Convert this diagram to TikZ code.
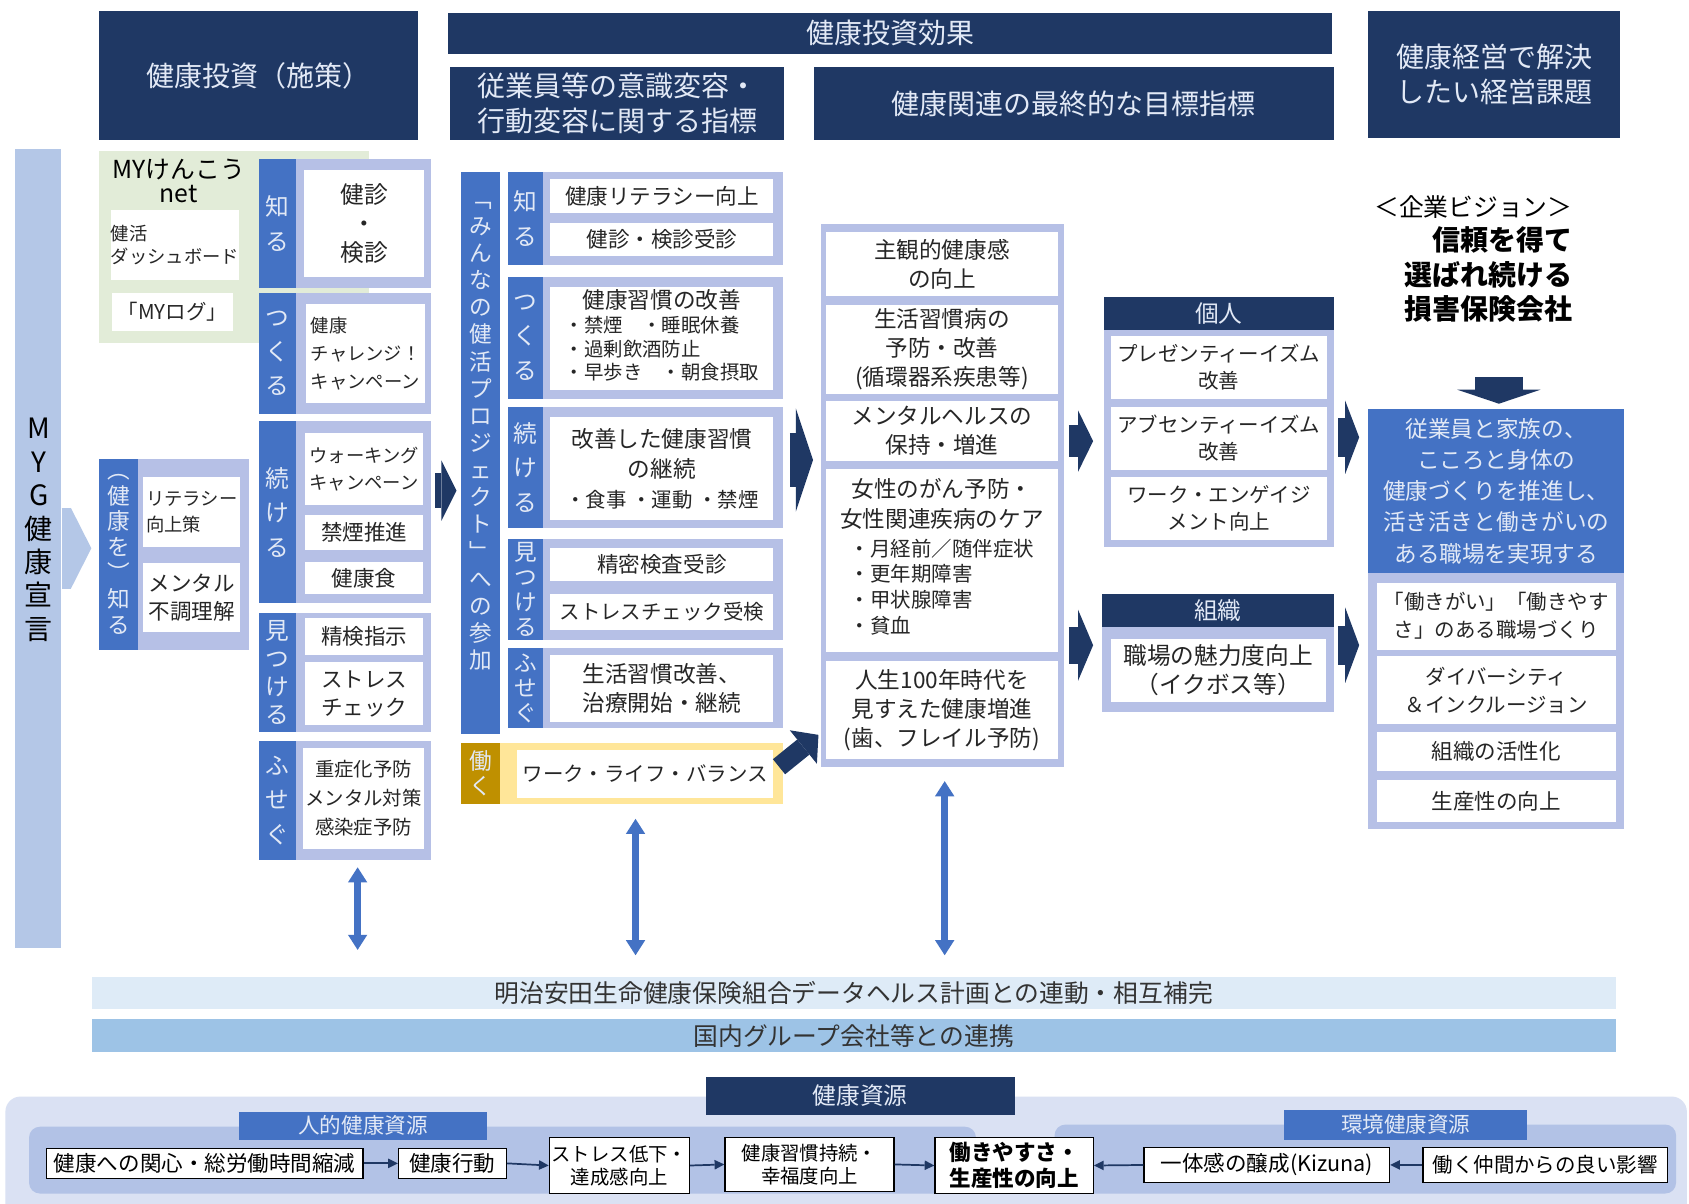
\documentclass[tikz,border=0pt]{standalone}
\usepackage{fontspec}
\setmainfont{Noto Sans CJK JP}
\usetikzlibrary{positioning, arrows.meta, calc}

\definecolor{navy}{RGB}{31,56,100}
\definecolor{midblue}{RGB}{68,114,196}
\definecolor{lav}{RGB}{182,192,230}
\definecolor{barblue}{RGB}{180,199,231}
\definecolor{mygreen}{RGB}{226,236,216}
\definecolor{gold}{RGB}{191,144,0}
\definecolor{paleyellow}{RGB}{255,230,153}
\definecolor{hdrtxt}{RGB}{226,233,246}
\definecolor{band1c}{RGB}{222,235,247}
\definecolor{band2c}{RGB}{157,195,230}
\definecolor{botouter}{RGB}{218,225,243}
\definecolor{botinner}{RGB}{178,194,230}

\begin{document}
\begin{tikzpicture}[x=1pt, y=-1pt,
  cell/.style n args={4}{minimum width={#3-#1}, minimum height={#4-#2}, at={({(#1+#3)/2},{(#2+#4)/2})}},
  blockarrow/.style n args={3}{draw=navy, line width=#1, -{Triangle[length=#3, width=#2, line width=0pt]}},
  dblarrow/.style={draw=midblue, line width=6pt, {Triangle[length=14pt, width=18pt, line width=0pt]}-{Triangle[length=14pt, width=18pt, line width=0pt]}}]

% Styles for boxes
\tikzstyle{hdr} = [rectangle, fill=navy, text=hdrtxt, align=center, inner sep=0pt, font=\fontsize{26}{32}\selectfont]
\tikzstyle{side} = [rectangle, fill=midblue, text=hdrtxt, align=center, inner sep=0pt, font=\fontsize{22}{32}\selectfont]
\tikzstyle{sidetxt} = [text=hdrtxt, align=center, inner sep=0pt]
\tikzstyle{body} = [rectangle, fill=lav, inner sep=0pt]
\tikzstyle{wbox} = [rectangle, fill=white, text=black!85, align=center, inner sep=0pt, font=\fontsize{20}{26}\selectfont]
\tikzstyle{tbox} = [wbox, font=\fontsize{21}{27}\selectfont]
\tikzstyle{kbox} = [wbox, font=\fontsize{19}{25}\selectfont]
\tikzstyle{sub} = [rectangle, fill=navy, text=hdrtxt, inner sep=0pt, font=\fontsize{22}{26}\selectfont]
\tikzstyle{band} = [rectangle, text=black!80, inner sep=0pt, font=\fontsize{23}{26}\selectfont]
\tikzstyle{flowbox} = [rectangle, draw=black, line width=1.2pt, fill=white, align=center, inner sep=0pt, font=\fontsize{18}{21}\selectfont]
\tikzstyle{flow} = [draw=navy, line width=1.6pt, -{Triangle[length=9pt, width=9pt, line width=0pt]}]

\useasboundingbox (0,0) rectangle (1568,1117);
\fill[white] (0,0) rectangle (1568,1117);

% Headers
\node[hdr, cell={92}{10}{388}{130}] (invest) {健康投資（施策）};
\node[hdr, cell={416}{12}{1237}{50}] (effect) {健康投資効果};
\node[hdr, cell={418}{62}{728}{130}] (ishiki) {従業員等の意識変容・\\行動変容に関する指標};
\node[hdr, cell={756}{62}{1238}{130}] (mokuhyo) {健康関連の最終的な目標指標};
\node[hdr, cell={1270}{10}{1504}{128}] (kadaihdr) {健康経営で解決\\したい経営課題};

% MYG bar and MY net
\node[rectangle, fill=barblue, inner sep=0pt, cell={14}{138}{57}{880}] (myg) {};
\node[align=center, inner sep=0pt, font=\fontsize{26}{31}\selectfont] (mygtxt) at (36,492) {M\\Y\\G\\健\\康\\宣\\言};
\node[rectangle, fill=mygreen, inner sep=0pt, cell={92}{140}{343}{318}] (mynet) {};
\node[align=center, inner sep=0pt, font=\fontsize{23}{22}\selectfont] (mynettxt) at (166,168) {MYけんこう\\net};
\node[wbox, align=left, font=\fontsize{17}{22}\selectfont, cell={105}{195}{220}{260}] (dash) {健活\\ダッシュボード};
\node[wbox, font=\fontsize{19}{22}\selectfont, cell={104}{272}{216}{307}] (mylog) {「MYログ」};

% Column 1
\node[body, cell={240}{148}{400}{267}] (c1shiru) {};
\node[side, cell={240}{148}{275}{267}] (c1shirus) {知\\る};
\node[wbox, font=\fontsize{22}{27}\selectfont, cell={282}{158}{394}{257}] (kenshin) {健診\\・\\検診};

\node[body, cell={240}{272}{400}{384}] (c1tsuku) {};
\node[side, cell={240}{272}{275}{384}] (c1tsukus) {つ\\く\\る};
\node[wbox, align=left, font=\fontsize{17}{26}\selectfont, cell={284}{282}{395}{374}] (challenge) {健康\\チャレンジ！\\キャンペーン};

\node[body, cell={240}{391}{400}{560}] (c1kei) {};
\node[side, cell={240}{391}{275}{560}] (c1keis) {続\\け\\る};
\node[wbox, align=left, font=\fontsize{17}{25}\selectfont, cell={283}{402}{393}{469}] (walking) {ウォーキング\\キャンペーン};
\node[wbox, cell={283}{478}{393}{511}] (kinen) {禁煙推進};
\node[wbox, cell={283}{522}{393}{551}] (kenkoshoku) {健康食};

\node[body, cell={240}{569}{400}{680}] (c1mitsu) {};
\node[side, font=\fontsize{22}{26}\selectfont, cell={240}{569}{275}{680}] (c1mitsus) {見\\つ\\け\\る};
\node[wbox, cell={283}{574}{393}{608}] (seiken) {精検指示};
\node[wbox, cell={283}{615}{393}{673}] (stress1) {ストレス\\チェック};

\node[body, cell={240}{688}{400}{798}] (c1fuse) {};
\node[side, cell={240}{688}{275}{798}] (c1fuses) {ふ\\せ\\ぐ};
\node[wbox, font=\fontsize{18}{27}\selectfont, cell={281}{694}{394}{788}] (yobou) {重症化予防\\メンタル対策\\感染症予防};

\node[body, cell={92}{426}{231}{603}] (kshiru) {};
\node[side, font=\fontsize{21}{24}\selectfont, cell={92}{426}{128}{603}] (kshirus) {︵\\健\\康\\を\\︶\\知\\る};
\node[wbox, align=left, font=\fontsize{17}{24}\selectfont, cell={133}{443}{223}{508}] (literacy) {リテラシー\\向上策};
\node[wbox, align=left, font=\fontsize{20}{26}\selectfont, cell={133}{523}{223}{587}] (mental1) {メンタル\\不調理解};

% Column 2
\node[rectangle, fill=midblue, inner sep=0pt, cell={428}{160}{464}{681}] (minna) {};
\node[sidetxt, font=\fontsize{21}{25.2}\selectfont] (minnatxt) at (446,405) {﹁\\み\\ん\\な\\の\\健\\活\\プ\\ロ\\ジ\\ェ\\ク\\ト\\﹂\\へ\\の\\参\\加};

\node[body, cell={472}{160}{727}{246}] (c2shiru) {};
\node[side, cell={472}{160}{504}{246}] (c2shirus) {知\\る};
\node[wbox, cell={511}{166}{718}{198}] (literacy2) {健康リテラシー向上};
\node[wbox, cell={511}{207}{718}{238}] (jushin) {健診・検診受診};

\node[body, cell={472}{257}{727}{370}] (c2tsuku) {};
\node[side, cell={472}{257}{504}{370}] (c2tsukus) {つ\\く\\る};
\node[wbox, font=\fontsize{18}{22}\selectfont, cell={511}{266}{718}{362}] (shukan) {\begin{tabular}{@{}l@{}}\multicolumn{1}{@{}c@{}}{\fontsize{21}{24}\selectfont 健康習慣の改善}\\・禁煙　・睡眠休養\\・過剰飲酒防止\\・早歩き　・朝食摂取\end{tabular}};

\node[body, cell={472}{378}{727}{490}] (c2kei) {};
\node[side, cell={472}{378}{504}{490}] (c2keis) {続\\け\\る};
\node[wbox, font=\fontsize{21}{28}\selectfont, cell={511}{387}{718}{483}] (keizoku) {改善した健康習慣\\の継続\\{\fontsize{19}{28}\selectfont ・食事 ・運動 ・禁煙}};

\node[body, cell={472}{500}{727}{594}] (c2mitsu) {};
\node[side, font=\fontsize{21}{23}\selectfont, cell={472}{500}{504}{594}] (c2mitsus) {見\\つ\\け\\る};
\node[wbox, cell={511}{509}{718}{539}] (seimitsu) {精密検査受診};
\node[wbox, font=\fontsize{19}{24}\selectfont, cell={511}{551}{718}{585}] (stress2) {ストレスチェック受検};

\node[body, cell={472}{602}{727}{676}] (c2fuse) {};
\node[side, font=\fontsize{21}{23}\selectfont, cell={472}{602}{504}{676}] (c2fuses) {ふ\\せ\\ぐ};
\node[wbox, font=\fontsize{21}{27}\selectfont, cell={511}{608}{718}{670}] (chiryo) {生活習慣改善、\\治療開始・継続};

\node[body, fill=paleyellow, cell={428}{690}{727}{746}] (c2hata) {};
\node[side, fill=gold, font=\fontsize{21}{23}\selectfont, cell={428}{690}{464}{746}] (c2hatas) {働\\く};
\node[wbox, font=\fontsize{19}{24}\selectfont, cell={480}{696}{718}{741}] (wlb) {ワーク・ライフ・バランス};

% Column 3
\node[body, cell={762}{208}{988}{712}] (col3) {};
\node[tbox, cell={767}{215}{982}{275}] (shukan3) {主観的健康感\\の向上};
\node[tbox, cell={767}{283}{982}{366}] (seikatsu) {生活習慣病の\\予防・改善\\(循環器系疾患等)};
\node[tbox, cell={767}{372}{982}{428}] (mentalh) {メンタルヘルスの\\保持・増進};
\node[tbox, cell={767}{435}{982}{605}] (josei) {女性のがん予防・\\女性関連疾病のケア\\{\fontsize{19}{24}\selectfont\begin{tabular}[t]{@{}l@{}}・月経前／随伴症状\\・更年期障害\\・甲状腺障害\\・貧血\end{tabular}}};
\node[tbox, cell={767}{614}{982}{705}] (jinsei) {人生100年時代を\\見すえた健康増進\\(歯、フレイル予防)};

% Column 4
\node[body, cell={1025}{276}{1238}{508}] (kojin) {};
\node[sub, cell={1025}{276}{1238}{306}] (kojinh) {個人};
\node[kbox, cell={1031}{312}{1232}{370}] (presen) {プレゼンティーイズム\\改善};
\node[kbox, cell={1031}{378}{1232}{436}] (absen) {アブセンティーイズム\\改善};
\node[kbox, cell={1031}{443}{1232}{501}] (engage) {ワーク・エンゲイジ\\メント向上};

\node[body, cell={1023}{551}{1238}{661}] (soshiki) {};
\node[sub, cell={1023}{551}{1238}{582}] (soshikih) {組織};
\node[wbox, font=\fontsize{22}{27}\selectfont, cell={1031}{593}{1231}{652}] (miryoku) {職場の魅力度向上\\（イクボス等）};

% Column 5
\node[anchor=north east, align=right, inner sep=0pt, font=\fontsize{26}{32}\selectfont] (vision) at (1460,181) {{\fontsize{23}{32}\selectfont ＜企業ビジョン＞}\\\textbf{信頼を得て}\\\textbf{選ばれ続ける}\\\textbf{損害保険会社}};
\node[body, cell={1270}{380}{1508}{770}] (kadai) {};
\node[rectangle, fill=midblue, text=hdrtxt, align=center, inner sep=0pt, font=\fontsize{21}{29}\selectfont, cell={1270}{380}{1508}{532}] (kadaitop) {従業員と家族の、\\こころと身体の\\健康づくりを推進し、\\活き活きと働きがいの\\ある職場を実現する};
\node[wbox, font=\fontsize{19}{26}\selectfont, cell={1278}{541}{1500}{603}] (yarigai) {「働きがい」「働きやす\\さ」のある職場づくり};
\node[wbox, font=\fontsize{19}{26}\selectfont, cell={1278}{609}{1500}{672}] (diversity) {ダイバーシティ\\＆インクルージョン};
\node[wbox, cell={1278}{680}{1500}{716}] (kasseika) {組織の活性化};
\node[wbox, cell={1278}{724}{1500}{763}] (seisansei) {生産性の向上};

% Bands
\node[band, fill=band1c, cell={85}{907}{1500}{937}] (band1) {明治安田生命健康保険組合データヘルス計画との連動・相互補完};
\node[band, fill=band2c, cell={85}{946}{1500}{977}] (band2) {国内グループ会社等との連携};

% Health resources
\node[rectangle, rounded corners=14pt, fill=botouter, inner sep=0pt, cell={5}{1018}{1566}{1135}] (resarea) {};
\node[rectangle, rounded corners=10pt, fill=botinner, inner sep=0pt, cell={27}{1046}{906}{1108}] (humanarea) {};
\node[rectangle, rounded corners=10pt, fill=botinner, inner sep=0pt, cell={979}{1044}{1556}{1108}] (envarea) {};
\node[sub, cell={655}{1000}{942}{1035}] (reshdr) {健康資源};
\node[sub, fill=midblue, font=\fontsize{20}{24}\selectfont, cell={222}{1032}{452}{1058}] (humanhdr) {人的健康資源};
\node[sub, fill=midblue, font=\fontsize{20}{24}\selectfont, cell={1192}{1030}{1418}{1058}] (envhdr) {環境健康資源};

\node[flowbox, font=\fontsize{20}{22}\selectfont, cell={43}{1066}{337}{1094}] (kanshin) {健康への関心・総労働時間縮減};
\node[flowbox, font=\fontsize{20}{22}\selectfont, cell={370}{1066}{470}{1094}] (koudou) {健康行動};
\node[flowbox, cell={510}{1056}{640}{1108}] (stress3) {ストレス低下・\\達成感向上};
\node[flowbox, cell={673}{1056}{830}{1106}] (jizoku) {健康習慣持続・\\幸福度向上};
\node[flowbox, font=\fontsize{20}{24}\selectfont\bfseries, cell={868}{1056}{1015}{1108}] (hataraki) {働きやすさ・\\生産性の向上};
\node[flowbox, font=\fontsize{20}{22}\selectfont, cell={1062}{1065}{1290}{1098}] (kizuna) {一体感の醸成(Kizuna)};
\node[flowbox, font=\fontsize{19}{22}\selectfont, cell={1321}{1065}{1548}{1098}] (nakama) {働く仲間からの良い影響};

% Edges
\draw[draw=barblue, line width=75pt, -{Triangle[length=19pt, width=75pt, line width=0pt]}, shorten >=7pt] (myg.east) -- (myg.east -| kshiru.west);

\coordinate (a1) at ($(c1kei.east)+(4,-20)$);
\draw[blockarrow={32pt}{56pt}{14pt}, shorten >=4pt] (a1) -- (a1 -| minna.west);
\coordinate (a2) at ($(c2kei.east)+(6,-7)$);
\draw[blockarrow={50pt}{96pt}{16pt}, shorten >=7pt] (a2) -- (a2 -| col3.west);
\coordinate (a3) at ($(col3.east)+(4,-50.5)$);
\draw[blockarrow={30pt}{57pt}{14pt}, shorten >=10pt] (a3) -- (a3 -| kojin.west);
\coordinate (a4) at ($(col3.east)+(4,139)$);
\draw[blockarrow={34pt}{66pt}{14pt}, shorten >=8pt] (a4) -- (a4 -| soshiki.west);
\coordinate (a5) at ($(kojin.east)+(4,14)$);
\draw[blockarrow={36pt}{68pt}{13pt}, shorten >=8pt] (a5) -- (a5 -| kadai.west);
\coordinate (a6) at ($(soshiki.east)+(4,-7)$);
\draw[blockarrow={36pt}{70pt}{13pt}, shorten >=8pt] (a6) -- (a6 -| kadai.west);
\coordinate (a7) at ($(kadaitop.north)+(2.5,-30)$);
\draw[blockarrow={45pt}{77pt}{13pt}, shorten >=5pt] (a7) -- (a7 |- kadaitop.north);
\coordinate (a8s) at ($(c2hata.north east)+(-4,22)$);
\coordinate (a8e) at ($(col3.south west)+(-2,-30)$);
\draw[blockarrow={18pt}{40pt}{18pt}] (a8s) -- (a8e);

\coordinate (d1) at ($(c1fuse.south)+(12,7)$);
\draw[dblarrow, shorten >=25pt] (d1) -- (d1 |- band1.north);
\coordinate (d2) at ($(c2hata.south)+(12.5,14)$);
\draw[dblarrow, shorten >=20pt] (d2) -- (d2 |- band1.north);
\coordinate (d3) at ($(col3.south)+(2,13)$);
\draw[dblarrow, shorten >=20pt] (d3) -- (d3 |- band1.north);

\draw[flow] (kanshin.east) -- (koudou.west);
\draw[flow] (koudou.east) -- (stress3.west);
\draw[flow] (stress3.east) -- (jizoku.west);
\draw[flow] (jizoku.east) -- (hataraki.west);
\draw[flow] (kizuna.west) -- (hataraki.east);
\draw[flow] (nakama.west) -- (kizuna.east);

\end{tikzpicture}
\end{document}
